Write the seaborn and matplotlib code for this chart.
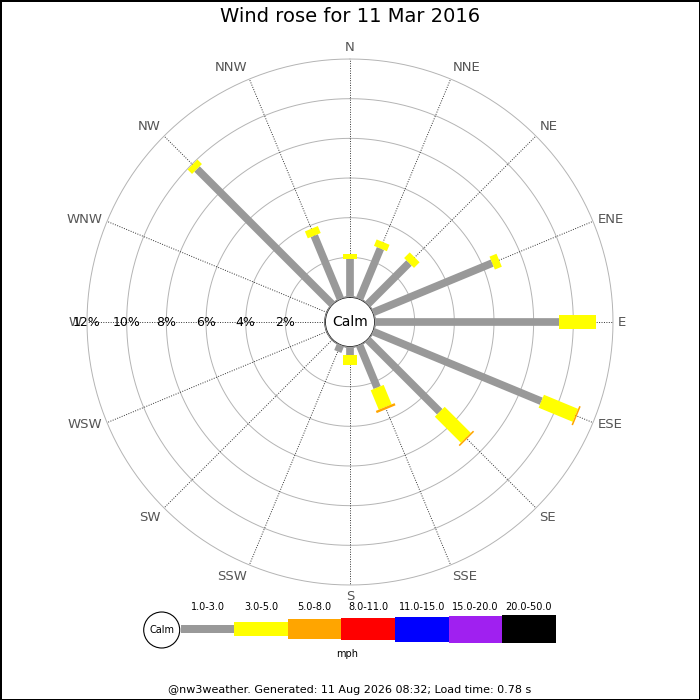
import numpy as np
import matplotlib
matplotlib.use("Agg")
import matplotlib.pyplot as plt
from matplotlib.patches import Circle
import seaborn as sns

# wind rose data, % of time per direction and speed band
directions = ['N', 'NNE', 'NE', 'ENE', 'E', 'ESE', 'SE', 'SSE',
              'S', 'SSW', 'SW', 'WSW', 'W', 'WNW', 'NW', 'NNW']
pct_1_3 = [1.92, 2.75, 2.95, 6.50, 9.28, 9.18, 5.14, 2.32,
           0.40, 0.35, 0.0, 0.0, 0.0, 0.0, 9.65, 3.45]
pct_3_5 = [0.25, 0.35, 0.40, 0.38, 1.86, 1.86, 1.86, 1.06,
           0.50, 0.0, 0.0, 0.0, 0.0, 0.0, 0.32, 0.38]
pct_5_8 = [0.0, 0.0, 0.0, 0.0, 0.0, 0.08, 0.08, 0.12,
           0.0, 0.0, 0.0, 0.0, 0.0, 0.0, 0.0, 0.0]
rings = [2, 4, 6, 8, 10, 12]

speed_bands = ['1.0-3.0', '3.0-5.0', '5.0-8.0', '8.0-11.0',
               '11.0-15.0', '15.0-20.0', '20.0-50.0']
band_colors = ['#999999', '#ffff00', '#ffa500', '#ff0000',
               '#0000ff', '#a020f0', '#000000']
band_px = [7.7, 14, 20.3, 22.7, 25, 27, 28.3]  # bar thickness in pixels

sns.set_theme(style="white")
plt.rcParams['font.family'] = ['DejaVu Sans']
plt.rcParams['text.color'] = 'black'

DPI = 100
fig = plt.figure(figsize=(7, 7), dpi=DPI)
fig.patch.set_facecolor('white')
fig.patch.set_edgecolor('black')
fig.patch.set_linewidth(2)

calm_off = 1.26  # radius of the calm circle in % units
ax = fig.add_axes([0.1243, 0.1643, 0.7514, 0.7514], projection='polar')
ax.set_theta_zero_location('N')
ax.set_theta_direction(-1)
ax.grid(False)
ax.set_xticks([])
ax.set_yticks([])
for s in ax.spines.values():
    s.set_visible(False)

theta = np.deg2rad(np.arange(len(directions)) * 22.5)
full = np.linspace(0, 2 * np.pi, 361)

for r in rings:
    ax.plot(full, np.full_like(full, r), color='#b4b4b4', lw=0.7, zorder=1,
            clip_on=False)
for t in theta:
    ax.plot([t, t], [0, rings[-1]], color='#333333', lw=0.7,
            ls=(0, (1, 1.5)), zorder=1, clip_on=False)

stack = np.vstack([pct_1_3, pct_3_5, pct_5_8])
cum = np.vstack([np.zeros(len(directions)), np.cumsum(stack, axis=0)])
for k in range(stack.shape[0]):
    for i, t in enumerate(theta):
        if stack[k, i] > 0:
            ax.plot([t, t], [cum[k, i], cum[k + 1, i]], color=band_colors[k],
                    lw=band_px[k] * 72 / DPI, solid_capstyle='butt', zorder=3)

# calm circle
ax.fill(full, np.zeros_like(full), facecolor='white', edgecolor='#aaaaaa',
        lw=0.8, zorder=4)
ax.text(0.5, 0.5, 'Calm', transform=ax.transAxes, ha='center', va='center',
        fontsize=10, zorder=5)

for r in rings:
    ax.text(np.deg2rad(270), r, f'{r}%', ha='center', va='center',
            fontsize=9, color='black', zorder=5)

lab_r = 12.25
for name, t in zip(directions, theta):
    sn, cs = np.sin(t), np.cos(t)
    ha = 'left' if sn > 0.01 else ('right' if sn < -0.01 else 'center')
    va = 'bottom' if cs > 0.5 else ('top' if cs < -0.5 else 'center')
    ax.text(t, lab_r, name, ha=ha, va=va, fontsize=9.5, color='#555555',
            clip_on=False)

ax.set_rorigin(-calm_off)
ax.set_ylim(0, rings[-1])

fig.text(0.5, 1 - 17 / 700, 'Wind rose for 11 Mar 2016', ha='center',
         va='center', fontsize=14)

# legend strip, in pixel coordinates
lax = fig.add_axes([140 / 700, 1 - 665 / 700, 420 / 700, 70 / 700])
lax.set_xlim(140, 560)
lax.set_ylim(665, 595)
lax.axis('off')
x0, seg_w, yc = 180.7, 53.57, 629
for i, band in enumerate(speed_bands):
    lax.bar(x0 + i * seg_w, band_px[i], width=seg_w, bottom=yc - band_px[i] / 2,
            color=band_colors[i], align='edge', lw=0)
    lax.text(x0 + (i + 0.5) * seg_w, 607, band, ha='center', va='center',
             fontsize=7)
lax.add_patch(Circle((161.7, 630), 18, facecolor='white', edgecolor='black',
                     lw=0.8))
lax.text(161.7, 630, 'Calm', ha='center', va='center', fontsize=7)
lax.text(x0 + 3.1 * seg_w, 654, 'mph', ha='center', va='center', fontsize=7)

fig.text(0.5, 1 - 690 / 700,
         '@nw3weather. Generated: 11 Aug 2026 08:32; Load time: 0.78 s',
         ha='center', va='center', fontsize=8)

fig.savefig('out.png', dpi=DPI, facecolor='white', edgecolor='black')
